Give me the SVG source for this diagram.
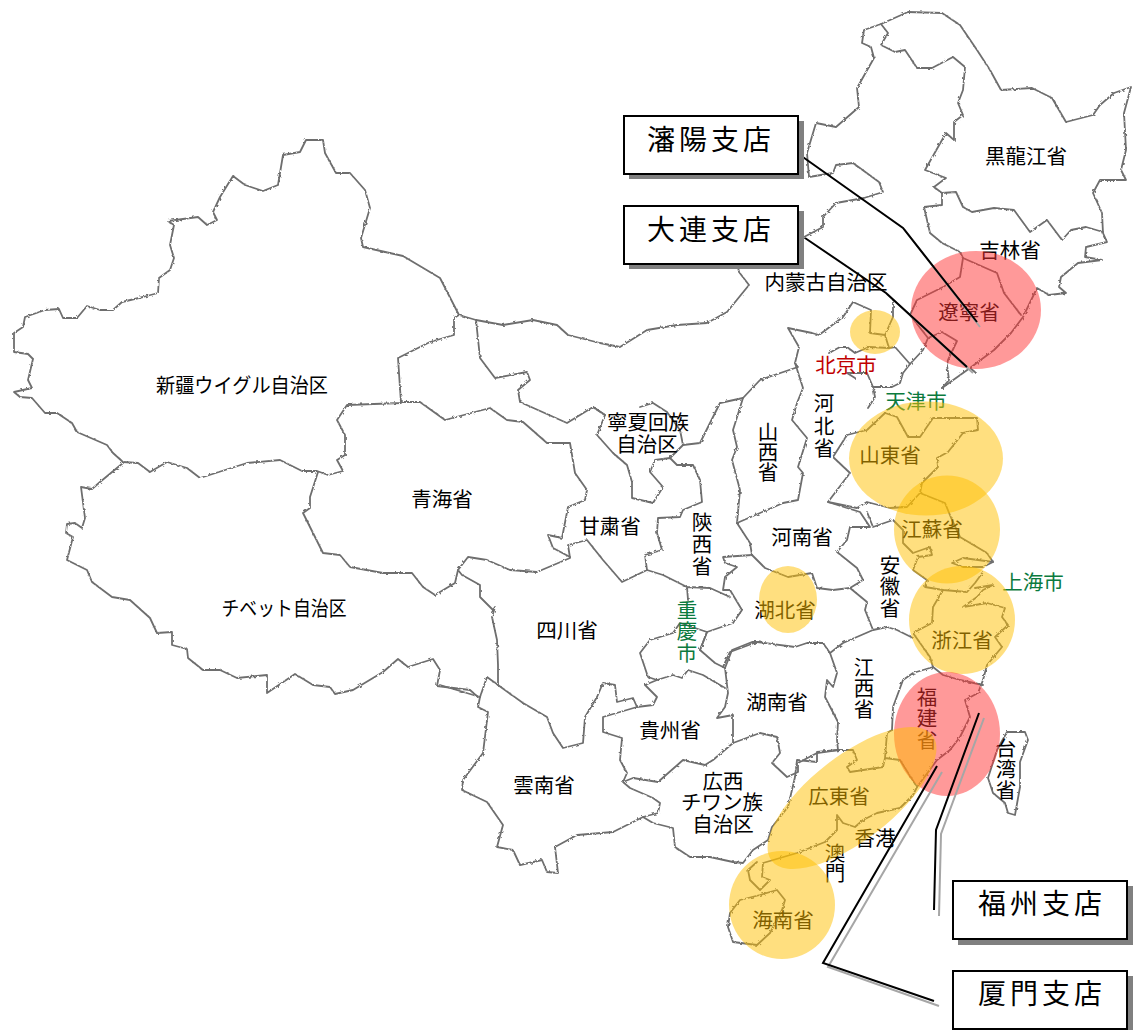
<svg xmlns="http://www.w3.org/2000/svg" width="1134" height="1030" viewBox="0 0 1134 1030">
<style>
.b{fill:none;stroke:#6e6e6e;stroke-width:1.8;stroke-linejoin:round;stroke-linecap:round}
.t{font-family:"Noto Sans CJK JP","Noto Sans CJK SC",sans-serif;font-size:20.500px;fill:#000;text-anchor:middle}
.v{writing-mode:vertical-rl}
.r{fill:#c00000}.g{fill:#0b7a3e}
.y{fill:#ffc000;fill-opacity:.5}.p{fill:#ff3333;fill-opacity:.5}
.box{fill:#fff;stroke:#000;stroke-width:2}.sh{fill:#808080}
.bt{font-family:"Noto Sans CJK JP","Noto Sans CJK SC",sans-serif;font-size:28px;letter-spacing:4px;fill:#000;text-anchor:middle}
.c{fill:none;stroke:#000;stroke-width:2}.cs{fill:none;stroke:#a6a6a6;stroke-width:2}
</style>
<defs><filter id="rough" x="0" y="0" width="100%" height="100%" filterUnits="userSpaceOnUse"><feTurbulence type="fractalNoise" baseFrequency="0.35" numOctaves="1" seed="3"/><feDisplacementMap in="SourceGraphic" scale="3"/></filter></defs>
<g id="map" class="b" filter="url(#rough)">
<path d="M123 462L113 453 107 445 77 432 72 423 57 413 45 413 32 398 20 397 14 392 32 388 28 380 33 359 28 354 14 352 14 333 23 327 25 317 45 310 59 309 63 318 77 318 87 306 100 310 113 310 122 302 143 297 158 293 159 278 170 270 174 258 170 245 174 225 168 221 198 217 207 225 217 220 213 212 220 197 233 176 245 185 263 191 278 185 283 155 300 152 306 140 323 140 325 153 336 173 350 173 365 190 370 208 361 238 363 247 403 256 440 278 459 315"/>
<path d="M459 315L454 318 454 335 430 342 398 358 401 403 347 405 337 420 345 435 345 455 337 460 343 471 328 475 317 471 302 471 280 460 247 463 200 478 187 468 167 462 150 472 138 463 123 462"/>
<path d="M123 463L100 482 92 489 81 487 85 518 82 528 75 523 67 524 66 533 73 537 67 560 87 570 92 582 112 597 130 600 150 618 157 633 172 632 172 645 187 649 188 658 203 670 220 670 237 678 267 675 267 693 295 674 313 685 330 687 335 694 353 690 383 672 398 659 408 667 433 659 440 670 437 686 470 690 478 697"/>
<path d="M318 472L310 497 310 508 303 513 323 553 340 555 350 567 383 573 412 573 423 587 435 595 455 583 458 570 468 557 487 560 510 570 537 572 570 558 568 545 587 540 603 560 622 582 647 570 645 555 662 550 657 533 658 518 680 517 683 510 702 502 700 480 693 465 677 465 670 458 655 460 650 472 663 487 653 503 632 498 632 482 627 465 613 453 597 435 605 415 593 407 567 423 520 402 518 390 530 380 527 372 495 378 480 358 476 320 459 315"/>
<path d="M401 402L420 402 445 420 490 408 507 420 523 422 547 443 570 443 575 473 587 490 585 500 568 507 562 538 548 535 553 548 570 557"/>
<path d="M458 570L462 575 480 585 480 597 493 610 495 607 492 617 497 640 498 665 498 685 487 677 480 697 440 685"/>
<path d="M476 320L503 325 533 320 557 325 568 335 600 343 620 347 647 330 677 325 707 323 727 312 749 285 739 272 737 262"/>
<path d="M798 240L804 237 823 227 823 217 836 203 864 198 883 192 879 182 853 163 836 165 833 173 809 177 807 153 816 123 836 127 859 107 857 88 874 58 871 47 862 43 864 30 881 24 908 12 942 13 960 25 977 50 990 70 1001 90 1032 88 1052 98 1066 122 1093 115 1100 105 1114 93 1131 87 1124 113 1126 150 1121 170 1126 180 1100 180 1093 193 1102 213 1103 233 1107 242 1086 247 1085 257 1102 260 1078 263 1061 277 1059 287 1066 293 1049 295 1037 288 1023 317 1011 333 994 350 970 368 942 388"/>
<path d="M970 368L975 372M881 24L888 33 881 45 895 52 905 50 917 68 932 68 953 57 965 67 963 90 958 103 963 115 954 122 954 140 946 133 925 170 946 178 934 187 942 193 956 192 963 207 972 212 994 208 1014 210 1030 232 1047 220 1062 240 1071 230 1086 227 1103 232"/>
<path d="M942 193L942 205 924 207 930 233 942 243 960 252 963 258 997 273 1004 293 1021 315"/>
<path d="M963 258L960 277 943 287 917 300 910 315 928 338M910 364L923 350 928 338 942 332 957 341 948 360 947 365 949 380 942 388"/>
<path d="M893 300L893 317 885 335 870 333 871 310 853 302 843 317 819 335 812 333 788 328 799 347 795 363 798 367 760 380 743 398 720 403 700 443 683 445 670 458"/>
<path d="M885 335L889 348 895 347 910 364 903 373 900 383 892 387 873 387 867 373 847 373 855 378M829 353L840 347 847 347 855 353 869 347 889 348M873 387L875 397 868 408"/>
<path d="M593 407L605 415M640 407L653 403 667 412 680 430 683 445"/>
<path d="M743 398L733 430 737 447 732 460 740 490 737 523 783 503 798 500 803 473 798 467 807 438 792 420 797 403 803 388 795 363"/>
<path d="M737 523L750 543 752 555 765 568 788 577 812 573 817 588 833 590 850 588 863 580 857 568 837 552 847 540 850 527 870 527 860 512 828 502 850 473 833 457 847 435 867 430 885 413 897 417 908 437 920 437 933 418 977 418 978 430 963 433 948 452 937 458 938 467 922 483 920 493 945 503 952 520 960 537 987 553 993 562"/>
<path d="M828 502L857 508 867 502 890 508 907 507 920 493M867 512L873 527 893 520 903 530 903 543 913 553 930 547 932 555 918 557 913 570 927 580 925 587 943 590 967 592 975 583 983 572"/>
<path d="M943 590L933 607 932 623 913 633 930 657 933 667 943 675 960 680 983 685M913 638L897 630 887 627 873 630 865 610 867 602 850 588M873 630L843 643 830 653 823 643 807 643 795 647 757 642 730 652 723 667"/>
<path d="M983 680L987 665 1002 647 995 637 1008 625 1002 617 1005 608 987 603 963 607 977 597 983 590 993 585 975 588M952 563L963 558 993 562 983 567 963 567Z"/>
<path d="M983 680L978 693 965 700 970 717 960 737 950 750 937 760 917 787 913 795 900 808 877 813 863 820 855 827 843 823 837 815 837 830 825 842 797 853 763 863 762 877 770 880 760 890 750 880 748 870 757 862"/>
<path d="M933 667L913 673 903 680 893 707 892 730 887 733 885 758 900 760 917 787M885 758L883 767 850 772 847 767 857 760 853 750 838 750 837 740 838 722 825 697 827 680 833 687 837 673 830 653"/>
<path d="M838 750L817 752 817 762 797 760 795 777 788 807 772 827 768 840 753 850 743 863 733 862 710 857 690 857 675 847 673 828 653 823 643 817 613 832 577 835 555 847 558 873 547 872 542 860 520 865 513 850 497 847 503 825 487 802 462 790 463 780 483 753 488 712 478 707 480 697"/>
<path d="M777 890L785 900 782 910 770 933 757 945 733 942 728 927 730 913 740 900 760 895Z"/>
<path d="M1025 732L1028 740 1020 762 1020 787 1015 815 1008 813 1005 803 993 793 988 778 997 750 1007 732Z"/>
<path d="M498 685L523 703 547 717 553 733 563 748 583 743 585 717 597 697 603 683 615 685 617 702 633 698 637 707 653 705 657 697 645 685 657 680 648 677 640 653 650 640 673 633 680 623 707 632 700 650 715 663 725 668 728 693 725 707 717 718 733 715 733 743 760 733 777 737 780 753 772 763 787 777 798 772 798 763 817 753 838 750"/>
<path d="M725 668L732 650 752 642 757 642M700 650L707 632 733 623 742 610 730 590 723 590 725 577 737 567 725 563 723 557 752 555M730 597L710 588 687 587 663 575 647 570M687 587L688 600"/>
<path d="M657 680L673 675 682 678 688 670 703 675 725 688M637 707L603 717 603 732 622 738 620 760 627 773 623 782 630 788 653 798 660 803 658 813 643 817M623 782L633 778 658 782 683 760 705 765 713 760 733 743"/>
</g>
<g id="labels">
<text class="t" x="1026" y="164">黒龍江省</text>
<text class="t" x="1010" y="258">吉林省</text>
<text class="t" x="969" y="320">遼寧省</text>
<text class="t" x="826" y="290">内蒙古自治区</text>
<text class="t r" x="846" y="373">北京市</text>
<text class="t g" x="916" y="409">天津市</text>
<text class="t v" x="824" y="427" style="letter-spacing:2px">河北省</text>
<text class="t v" x="768" y="452" style="letter-spacing:-.5px">山西省</text>
<text class="t" x="890" y="463">山東省</text>
<text class="t" x="932" y="537">江蘇省</text>
<text class="t g" x="1033" y="590">上海市</text>
<text class="t" x="802" y="545">河南省</text>
<text class="t v" x="890" y="587" style="letter-spacing:1px">安徽省</text>
<text class="t" x="785" y="618">湖北省</text>
<text class="t" x="962" y="648">浙江省</text>
<text class="t v" x="864" y="688" style="letter-spacing:.5px">江西省</text>
<text class="t" x="777" y="710">湖南省</text>
<text class="t v" x="927" y="719" style="letter-spacing:1px">福建省</text>
<text class="t v" x="1006" y="769" style="letter-spacing:.5px">台湾省</text>
<text class="t" x="839" y="804">広東省</text>
<text class="t" x="875" y="846">香港</text>
<text class="t v" x="835" y="863">澳門</text>
<text class="t" x="783" y="928">海南省</text>
<text class="t" x="723" y="789">広西</text>
<text class="t" x="722" y="810">チワン族</text>
<text class="t" x="723" y="832">自治区</text>
<text class="t" x="670" y="738">貴州省</text>
<text class="t" x="544" y="793">雲南省</text>
<text class="t" x="567" y="638">四川省</text>
<text class="t g v" x="687" y="632" style="letter-spacing:1px">重慶市</text>
<text class="t v" x="702" y="545" style="letter-spacing:1.500px">陝西省</text>
<text class="t" x="610" y="534">甘粛省</text>
<text class="t" x="648" y="430">寧夏回族</text>
<text class="t" x="647" y="452">自治区</text>
<text class="t" x="442" y="507">青海省</text>
<text class="t" x="242" y="393" textLength="172" lengthAdjust="spacingAndGlyphs">新疆ウイグル自治区</text>
<text class="t" x="284" y="616" textLength="125" lengthAdjust="spacingAndGlyphs">チベット自治区</text>
</g>
<g id="highlights">
<ellipse class="p" cx="976" cy="310" rx="65" ry="59"/>
<ellipse class="y" cx="875" cy="332" rx="25" ry="22"/>
<ellipse class="y" cx="926" cy="458.500" rx="77" ry="57"/>
<ellipse class="y" cx="947" cy="529.500" rx="53" ry="54"/>
<ellipse class="y" cx="962" cy="620" rx="53" ry="54"/>
<ellipse class="y" cx="788" cy="599.500" rx="29" ry="33.500"/>
<ellipse class="p" cx="947" cy="734" rx="53" ry="62"/>
<ellipse class="y" cx="852" cy="798" rx="102" ry="42" transform="rotate(-38 852 798)"/>
<ellipse class="y" cx="782" cy="905" rx="53" ry="54"/>
</g>
<g id="connectors">
<path class="cs" d="M984 718L941 834 939 916M942 772L828 967 939 1006M904 229L980 327M887 294L973 373"/>
<path class="c" d="M800 155L903 228 977 322M805 238L886 293 967 367M979 713L936 830 934 910M937 766L823 963 934 1001"/>
</g>
<g id="branch-shenyang"><rect class="sh" x="629" y="121" width="175" height="58"/><rect class="box" x="624" y="116" width="174" height="58"/><text class="bt" x="711" y="150">瀋陽支店</text></g>
<g id="branch-dalian"><rect class="sh" x="629" y="211" width="175" height="58"/><rect class="box" x="624" y="206" width="174" height="58"/><text class="bt" x="711" y="240">大連支店</text></g>
<g id="branch-fuzhou"><rect class="sh" x="958" y="886" width="175" height="59"/><rect class="box" x="953" y="881" width="174" height="58"/><text class="bt" x="1042" y="914">福州支店</text></g>
<g id="branch-xiamen"><rect class="sh" x="958" y="976" width="175" height="59"/><rect class="box" x="953" y="971" width="174" height="58"/><text class="bt" x="1042" y="1004">厦門支店</text></g>
</svg>
